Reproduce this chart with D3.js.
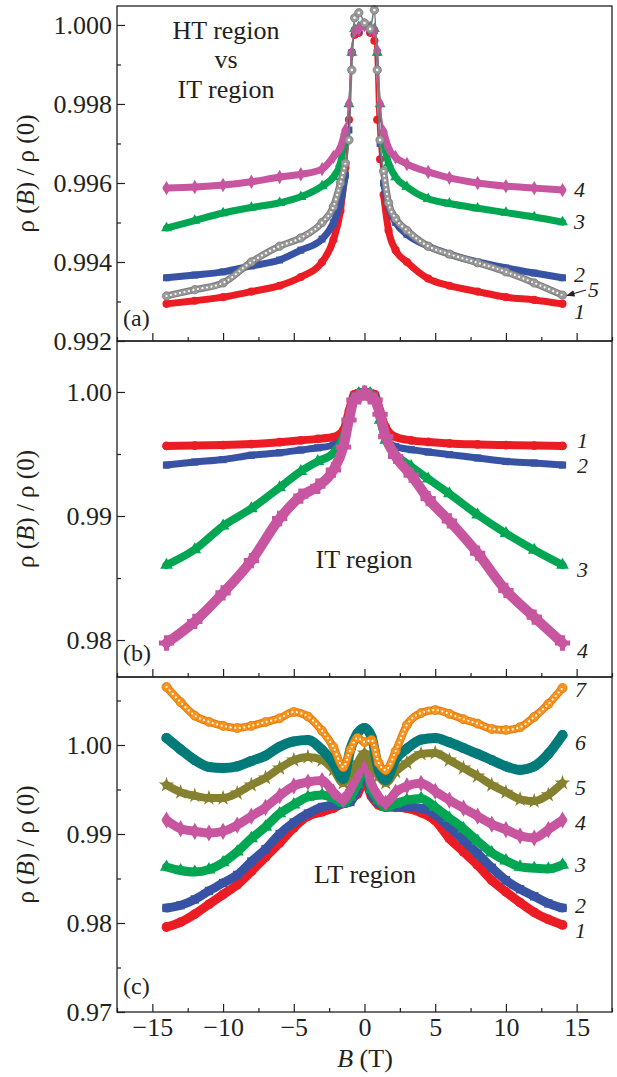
<!DOCTYPE html>
<html>
<head>
<meta charset="utf-8">
<script src="https://cdn.jsdelivr.net/npm/d3@7"></script>
<style>
  body { margin:0; background:#fff; }
  svg { display:block; }
  text { font-family:"Liberation Serif","Times New Roman",serif; fill:#231f20; }
</style>
</head>
<body>
<div id="chart"></div>
<script>
// ---- data ----
// panel (a): HT vs IT region
const Ba = [-14,-12,-10,-8,-6,-4.5,-3,-2.2,-1.7,-1.35,-1.1,-0.9,-0.7,-0.4,0,0.4,0.7,0.9,1.1,1.35,1.7,2.2,3,4.5,6,8,10,12,14]
const a1 = [0.99294,0.99302,0.99311,0.99325,0.99340,0.99362,0.99400,0.99456,0.99530,0.99640,0.99760,0.99930,0.99975,0.99980,1.00000,0.99980,0.99960,0.99760,0.99660,0.99570,0.99480,0.99430,0.99400,0.99358,0.99340,0.99325,0.99311,0.99304,0.99294]
const a2 = [0.99360,0.99367,0.99375,0.99390,0.99405,0.99430,0.99458,0.99499,0.99550,0.99620,0.99734,0.99930,0.99985,0.99985,1.00000,0.99985,0.99985,0.99930,0.99700,0.99600,0.99540,0.99500,0.99470,0.99440,0.99420,0.99400,0.99385,0.99372,0.99360]
const a3 = [0.99486,0.99505,0.99524,0.99538,0.99550,0.99565,0.99592,0.99615,0.99650,0.99730,0.99800,0.99930,0.99990,0.99995,1.00000,0.99995,0.99990,0.99930,0.99800,0.99700,0.99650,0.99615,0.99590,0.99560,0.99548,0.99536,0.99525,0.99514,0.99501]
const a4 = [0.99587,0.99590,0.99595,0.99603,0.99615,0.99622,0.99635,0.99666,0.99690,0.99734,0.99800,0.99930,0.99985,0.99990,1.00000,0.99990,0.99985,0.99935,0.99800,0.99730,0.99688,0.99665,0.99648,0.99628,0.99613,0.99600,0.99592,0.99587,0.99582]
const a5 = [0.99314,0.99330,0.99347,0.99400,0.99440,0.99461,0.99500,0.99540,0.99600,0.99650,0.99709,0.99886,1.00018,1.00031,1.00005,0.99990,1.00038,0.99886,0.99709,0.99630,0.99550,0.99510,0.99480,0.99440,0.99420,0.99398,0.99375,0.99347,0.99316]

// panel (b): IT region
const Bb = [-14,-12,-10,-8,-6,-4.5,-3.3,-2.2,-1.5,-1.1,-0.75,-0.4,0,0.4,0.75,1.1,1.5,2.2,3.3,4.5,6,8,10,12,14]
const b1 = [0.99565,0.99568,0.99572,0.99580,0.99595,0.99610,0.99622,0.99637,0.99694,0.99850,0.99980,0.99995,1.00000,0.99995,0.99980,0.99850,0.99718,0.99637,0.99610,0.99597,0.99585,0.99577,0.99572,0.99568,0.99565]
const b2 = [0.99411,0.99435,0.99455,0.99490,0.99510,0.99532,0.99550,0.99573,0.99637,0.99798,0.99960,0.99990,1.00000,0.99990,0.99960,0.99774,0.99630,0.99560,0.99535,0.99516,0.99495,0.99468,0.99440,0.99427,0.99411]
const b3 = [0.98605,0.98730,0.98920,0.99060,0.99230,0.99360,0.99440,0.99508,0.99637,0.99798,0.99950,0.99990,1.00000,0.99990,0.99950,0.99774,0.99613,0.99500,0.99400,0.99300,0.99180,0.99010,0.98860,0.98726,0.98605]
const b4 = [0.97976,0.98150,0.98380,0.98640,0.98980,0.99160,0.99240,0.99371,0.99556,0.99774,0.99935,0.99960,0.99990,0.99960,0.99935,0.99820,0.99640,0.99480,0.99330,0.99140,0.98960,0.98700,0.98400,0.98185,0.97976]

// panel (c): LT region
const Bc = [-14,-13,-12,-11,-10,-9,-8,-7,-6,-5,-4,-3,-2.2,-1.5,-1,-0.5,0,0.5,1,1.5,2.2,3,4,5,6,7,8,9,10,11,12,13,14]
const c1 = [0.97955,0.98010,0.98100,0.98210,0.98320,0.98430,0.98580,0.98740,0.98900,0.99070,0.99200,0.99250,0.99292,0.99350,0.99400,0.99450,0.99600,0.99420,0.99326,0.99300,0.99300,0.99290,0.99240,0.99150,0.98950,0.98800,0.98650,0.98480,0.98350,0.98230,0.98120,0.98040,0.97978]
const c2 = [0.98169,0.98200,0.98265,0.98360,0.98450,0.98540,0.98690,0.98830,0.99000,0.99130,0.99230,0.99303,0.99326,0.99340,0.99360,0.99500,0.99700,0.99450,0.99348,0.99320,0.99310,0.99303,0.99290,0.99220,0.99080,0.98930,0.98780,0.98620,0.98480,0.98380,0.98300,0.98220,0.98169]
const c3 = [0.98629,0.98590,0.98573,0.98600,0.98680,0.98800,0.98950,0.99080,0.99230,0.99330,0.99416,0.99438,0.99404,0.99348,0.99420,0.99560,0.99798,0.99500,0.99380,0.99303,0.99340,0.99380,0.99400,0.99300,0.99180,0.99060,0.98920,0.98790,0.98700,0.98630,0.98615,0.98607,0.98652]
const c4 = [0.99157,0.99060,0.99030,0.99011,0.99030,0.99100,0.99200,0.99300,0.99430,0.99540,0.99584,0.99600,0.99472,0.99382,0.99500,0.99650,0.99831,0.99560,0.99420,0.99348,0.99470,0.99540,0.99570,0.99480,0.99380,0.99290,0.99200,0.99110,0.99050,0.98980,0.98955,0.99050,0.99157]
const c5 = [0.99551,0.99470,0.99430,0.99404,0.99404,0.99460,0.99550,0.99630,0.99740,0.99830,0.99865,0.99831,0.99720,0.99573,0.99680,0.99800,0.99910,0.99780,0.99650,0.99573,0.99700,0.99800,0.99900,0.99910,0.99830,0.99740,0.99650,0.99550,0.99470,0.99390,0.99370,0.99440,0.99573]
const c6 = [1.00079,0.99950,0.99830,0.99753,0.99741,0.99760,0.99820,0.99880,0.99980,1.00040,1.00056,0.99944,0.99798,0.99620,0.99950,1.00130,1.00190,1.00090,0.99720,0.99607,0.99840,0.99960,1.00060,1.00079,1.00030,0.99966,0.99900,0.99830,0.99760,0.99720,0.99760,0.99900,1.00112]
const c7 = [1.00652,1.00480,1.00330,1.00260,1.00215,1.00191,1.00215,1.00258,1.00300,1.00371,1.00320,1.00160,0.99978,0.99753,0.99944,1.00079,1.00034,1.00056,0.99800,0.99719,0.99930,1.00225,1.00360,1.00393,1.00350,1.00290,1.00240,1.00180,1.00169,1.00200,1.00315,1.00460,1.00640]

// ticks
const xTicks = [-15,-10,-5,0,5,10,15]
const xMinor = [-17.5,-12.5,-7.5,-2.5,2.5,7.5,12.5,17.5]
const yTicksA = [0.992,0.994,0.996,0.998,1.000]
const yMinorA = [0.993,0.995,0.997,0.999]
const yTicksB = [0.98,0.99,1.00]
const yMinorB = [0.985,0.995]
const yTicksC = [0.97,0.98,0.99,1.00]
const yMinorC = [0.975,0.985,0.995,1.005]

const RED="#ec1c24", BLUE="#3953a4", GREEN="#00a651", MAG="#c8559f",
      GREY="#9a9a9a", TEAL="#007b7a", OLIVE="#86812f", ORANGE="#f7941d"

let width=617, height=1077,
    left=117, right=612

let svg = d3.select("#chart").append("svg").attr("width",width).attr("height",height)
let defs = svg.append("defs")
defs.append("marker").attr("id","arr").attr("viewBox","0 0 10 10").attr("refX",9).attr("refY",5)
  .attr("markerWidth",7).attr("markerHeight",7).attr("orient","auto")
  .append("path").attr("d","M0,1L10,5L0,9z").attr("fill","#231f20")

let x = d3.scaleLinear().domain([-17.5,17.5]).range([left,right])

let panels = [
  { top:6, bottom:341, dom:[0.992,1.00048], ticks:yTicksA, minor:yMinorA, fmt:".3f", tag:"(a)", tagY:326,
    B:Ba, thinCore:1.3, series:[
      {v:a1,c:RED,sym:d3.symbolCircle,size:52,band:7},
      {v:a2,c:BLUE,sym:d3.symbolSquare,size:48,band:7},
      {v:a3,c:GREEN,sym:d3.symbolTriangle,size:52,band:7},
      {v:a4,c:MAG,sym:d3.symbolDiamond,size:60,band:7},
      {v:a5,c:GREY,sym:d3.symbolCircle,size:55,band:7,hollow:true,edge:"#7a7a7a"}
    ]},
  { top:341, bottom:677, dom:[0.97702,1.00411], ticks:yTicksB, minor:yMinorB, fmt:".2f", tag:"(b)", tagY:661,
    B:Bb, thinCore:0, series:[
      {v:b1,c:RED,sym:d3.symbolCircle,size:60,band:8},
      {v:b2,c:BLUE,sym:d3.symbolSquare,size:52,band:7},
      {v:b3,c:GREEN,sym:d3.symbolTriangle,size:70,band:8},
      {v:b4,c:MAG,sym:d3.symbolCross,size:130,band:10}
    ]},
  { top:677, bottom:1012, dom:[0.97,1.00764], ticks:yTicksC, minor:yMinorC, fmt:".2f", tag:"(c)", tagY:994,
    B:Bc, thinCore:0, series:[
      {v:c1,c:RED,sym:d3.symbolCircle,size:75,band:9},
      {v:c2,c:BLUE,sym:d3.symbolSquare,size:70,band:9},
      {v:c3,c:GREEN,sym:d3.symbolTriangle,size:75,band:9},
      {v:c4,c:MAG,sym:d3.symbolDiamond,size:85,band:9},
      {v:c5,c:OLIVE,sym:d3.symbolStar,size:75,band:8},
      {v:c6,c:TEAL,sym:d3.symbolCircle,size:80,band:10},
      {v:c7,c:ORANGE,sym:d3.symbolCircle,size:65,band:8,hollow:true,edge:"#e07a10"}
    ]}
]

panels.forEach(function(p,pi){
  let y = d3.scaleLinear().domain(p.dom).range([p.bottom,p.top])
  let g = svg.append("g")

  // curves
  p.series.forEach(function(s){
    let pts = p.B.map((b,i)=>[b,s.v[i]])
    let line = d3.line().x(d=>x(d[0])).y(d=>y(d[1])).curve(d3.curveMonotoneX)
    // thick band on the wings, thin connecting line through the steep core
    let wings = p.thinCore>0
      ? [pts.filter(d=>d[0]<=-p.thinCore), pts.filter(d=>d[0]>=p.thinCore)]
      : [pts]
    if(p.thinCore>0){
      g.append("path").attr("d",line(pts)).attr("fill","none")
        .attr("stroke",s.edge||s.c).attr("stroke-width",1.6)
    }
    wings.forEach(function(w){
      g.append("path").attr("d",line(w)).attr("fill","none")
        .attr("stroke",s.edge||s.c).attr("stroke-width",s.band)
        .attr("stroke-linejoin","round").attr("stroke-linecap","round")
      if(s.hollow){
        g.append("path").attr("d",line(w)).attr("fill","none")
          .attr("stroke",s.c).attr("stroke-width",s.band-2)
          .attr("stroke-linejoin","round").attr("stroke-linecap","round")
      }
    })
    g.selectAll(null).data(pts).enter().append("path")
      .attr("transform",d=>`translate(${x(d[0])},${y(d[1])})`)
      .attr("d",d3.symbol().type(s.sym).size(s.size))
      .attr("fill",s.c)
      .attr("stroke",s.edge||"none").attr("stroke-width",s.edge?0.8:0)
    if(s.hollow){
      wings.forEach(function(w){
        g.append("path").attr("d",line(w)).attr("fill","none")
          .attr("stroke","#fff").attr("stroke-width",2.2)
          .attr("stroke-dasharray","0 4.6").attr("stroke-linecap","round")
      })
      if(p.thinCore>0){
        g.selectAll(null).data(pts.filter(d=>Math.abs(d[0])<p.thinCore)).enter().append("circle")
          .attr("cx",d=>x(d[0])).attr("cy",d=>y(d[1])).attr("r",1.3).attr("fill","#fff")
      }
    }
  })

  // frame
  svg.append("rect").attr("x",left).attr("y",p.top).attr("width",right-left).attr("height",p.bottom-p.top)
    .attr("fill","none").attr("stroke","#231f20").attr("stroke-width",1.3)

  // y axes
  let yAx = svg.append("g").attr("transform",`translate(${left},0)`)
    .call(d3.axisLeft(y).tickValues(p.ticks).tickSize(-8).tickPadding(5).tickFormat(d3.format(p.fmt)))
  let yMin = svg.append("g").attr("transform",`translate(${left},0)`)
    .call(d3.axisLeft(y).tickValues(p.minor).tickSize(-4).tickFormat(""))
  ;[yAx,yMin].forEach(a=>{a.select(".domain").remove(); a.selectAll("line").attr("stroke","#231f20").attr("stroke-width",1.2)})
  yAx.selectAll("text").attr("font-size",26).attr("font-family",null).attr("fill","#231f20")

  // x axes
  let last = pi==panels.length-1
  let xAx = svg.append("g").attr("transform",`translate(0,${p.bottom})`)
    .call(d3.axisBottom(x).tickValues(xTicks).tickSize(-8).tickPadding(6).tickFormat(last?d3.format("d"):""))
  let xMin = svg.append("g").attr("transform",`translate(0,${p.bottom})`)
    .call(d3.axisBottom(x).tickValues(xMinor).tickSize(-4).tickFormat(""))
  ;[xAx,xMin].forEach(a=>{a.select(".domain").remove(); a.selectAll("line").attr("stroke","#231f20").attr("stroke-width",1.2)})
  xAx.selectAll("text").attr("font-size",26).attr("font-family",null).attr("fill","#231f20")

  // y title
  let t = svg.append("text").attr("transform",`translate(34,${(p.top+p.bottom)/2}) rotate(-90)`)
    .attr("text-anchor","middle").attr("font-size",25)
  t.append("tspan").text("ρ (")
  t.append("tspan").attr("font-style","italic").text("B")
  t.append("tspan").text(") / ρ (0)")

  // panel tag
  svg.append("text").attr("x",123).attr("y",p.tagY).attr("font-size",24).text(p.tag)
})

// x title
let xt = svg.append("text").attr("x",365).attr("y",1067).attr("text-anchor","middle").attr("font-size",26)
xt.append("tspan").attr("font-style","italic").text("B")
xt.append("tspan").text(" (T)")

// region annotations
function note(txt,x0,y0){ svg.append("text").attr("x",x0).attr("y",y0).attr("text-anchor","middle").attr("font-size",26).text(txt) }
note("HT region",226,39)
note("vs",226,68)
note("IT region",226,98)
note("IT region",364,568)
note("LT region",365,883)

// curve numbers
function num(txt,x0,y0){ svg.append("text").attr("x",x0).attr("y",y0).attr("font-size",22).attr("font-style","italic").text(txt) }
num("4",574,197); num("3",574,229); num("2",574,282); num("5",588,297); num("1",574,319)
num("1",577,448); num("2",577,473); num("3",577,577); num("4",577,658)
num("7",575,697); num("6",575,750); num("5",575,795); num("4",575,830); num("3",575,872); num("2",575,913); num("1",575,938)

// arrow for curve 5
svg.append("line").attr("x1",586).attr("y1",290).attr("x2",567).attr("y2",295.5)
  .attr("stroke","#231f20").attr("stroke-width",1.2).attr("marker-end","url(#arr)")
</script>
</body>
</html>
